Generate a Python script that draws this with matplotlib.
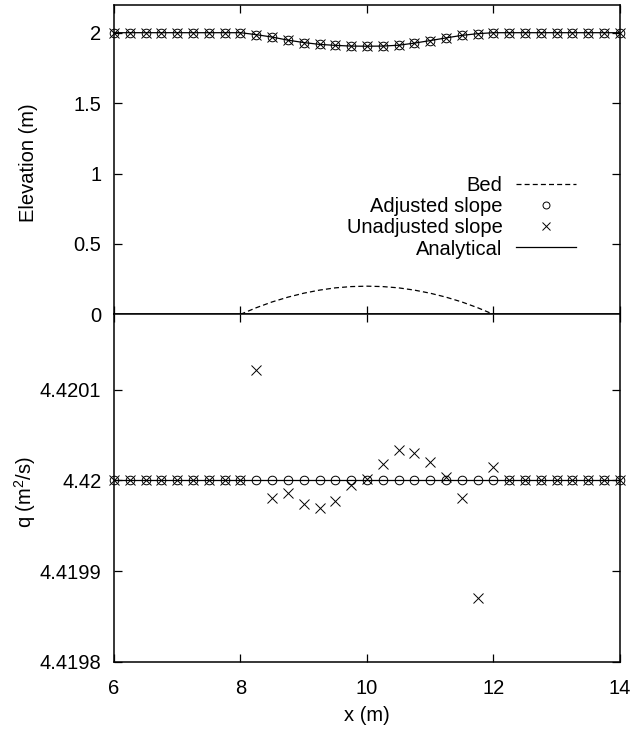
# water surface and discharge over a bump: adjusted vs unadjusted bed slope
import numpy as np
import matplotlib
matplotlib.use("Agg")
import matplotlib.pyplot as plt
import matplotlib.ticker as ticker
from matplotlib.lines import Line2D

plt.rcParams['font.family'] = ['Liberation Sans', 'DejaVu Sans']
plt.rcParams['mathtext.default'] = 'regular'
plt.rcParams['font.size'] = 14.5

# node positions (m)
x = [6.0, 6.25, 6.5, 6.75, 7.0, 7.25, 7.5, 7.75, 8.0,
     8.25, 8.5, 8.75, 9.0, 9.25, 9.5, 9.75, 10.0,
     10.25, 10.5, 10.75, 11.0, 11.25, 11.5, 11.75, 12.0,
     12.25, 12.5, 12.75, 13.0, 13.25, 13.5, 13.75, 14.0]

# water surface elevation (m)
elev_adjusted = [2.0, 2.0, 2.0, 2.0, 2.0, 2.0, 2.0, 2.0, 2.0,
                 1.986, 1.969, 1.947, 1.930, 1.917, 1.910, 1.905, 1.904,
                 1.905, 1.911, 1.926, 1.944, 1.963, 1.981, 1.993, 2.0,
                 2.0, 2.0, 2.0, 2.0, 2.0, 2.0, 2.0, 2.0]
elev_unadjusted = [2.0, 2.0, 2.0, 2.0, 2.0, 2.0, 2.0, 2.0, 2.0,
                   1.986, 1.969, 1.947, 1.930, 1.917, 1.910, 1.905, 1.904,
                   1.905, 1.911, 1.926, 1.944, 1.963, 1.981, 1.993, 2.0,
                   2.0, 2.0, 2.0, 2.0, 2.0, 2.0, 2.0, 2.0]
elev_analytical = [2.0, 2.0, 2.0, 2.0, 2.0, 2.0, 2.0, 2.0, 2.0,
                   1.986, 1.969, 1.947, 1.930, 1.917, 1.910, 1.905, 1.904,
                   1.905, 1.911, 1.926, 1.944, 1.963, 1.981, 1.993, 2.0,
                   2.0, 2.0, 2.0, 2.0, 2.0, 2.0, 2.0, 2.0]

# bed profile (m)
x_bed = [8.0, 8.25, 8.5, 8.75, 9.0, 9.25, 9.5, 9.75, 10.0,
         10.25, 10.5, 10.75, 11.0, 11.25, 11.5, 11.75, 12.0]
z_bed = [0.0, 0.047, 0.088, 0.122, 0.150, 0.172, 0.188, 0.197, 0.200,
         0.197, 0.188, 0.172, 0.150, 0.122, 0.088, 0.047, 0.0]

# discharge per unit width (m^2/s)
q_adjusted = [4.42] * 33
q_unadjusted = [4.42, 4.42, 4.42, 4.42, 4.42, 4.42, 4.42, 4.42, 4.42,
                4.420122, 4.419981, 4.419986, 4.419974, 4.419970, 4.419977, 4.419995, 4.420002,
                4.420018, 4.420034, 4.420030, 4.420020, 4.420004, 4.419981, 4.419871, 4.420015,
                4.42, 4.42, 4.42, 4.42, 4.42, 4.42, 4.42, 4.42]
q_analytical = [4.42] * 33

q_ticks = [4.4198, 4.4199, 4.42, 4.4201]
elev_ticks = [0, 0.5, 1, 1.5, 2]
x_ticks = [6, 8, 10, 12, 14]

fig = plt.figure(figsize=(6.34, 7.31), dpi=100)
ax1 = fig.add_axes([0.1798, 0.570, 0.798, 0.4238])
ax2 = fig.add_axes([0.1798, 0.0944, 0.798, 0.4757])

mk_o = dict(marker='o', ms=6.2, mfc='none', mec='black', mew=0.7, ls='none', clip_on=False)
mk_x = dict(marker='x', ms=7.0, mec='black', mew=0.7, ls='none', clip_on=False)

# top panel
ax1.plot(x_bed, z_bed, color='black', lw=0.9, dashes=(4, 2.5))
ax1.plot(x, elev_adjusted, **mk_o)
ax1.plot(x, elev_unadjusted, **mk_x)
ax1.plot(x, elev_analytical, color='black', lw=0.9)
ax1.set_xlim(6, 14)
ax1.set_ylim(0, 2.2)
ax1.set_yticks(elev_ticks)
ax1.yaxis.set_major_formatter(ticker.FormatStrFormatter('%g'))
ax1.set_xticks(x_ticks)
ax1.set_xticklabels([])
ax1.set_ylabel("Elevation (m)")
ax1.yaxis.set_label_coords(-0.150, 0.49)

handles = [Line2D([], [], color='black', lw=0.9, dashes=(4, 2.5)),
           Line2D([], [], marker='o', ms=5, mfc='none', mec='black', mew=0.7, ls='none'),
           Line2D([], [], marker='x', ms=6, mec='black', mew=0.7, ls='none'),
           Line2D([], [], color='black', lw=0.9)]
labels = ["Bed", "Adjusted slope", "Unadjusted slope", "Analytical"]
ax1.legend(handles, labels, loc='upper right', bbox_to_anchor=(0.913, 0.445),
           frameon=False, markerfirst=False, borderpad=0, borderaxespad=0,
           handlelength=2.95, handletextpad=0.7, labelspacing=0.1, fontsize=14.5)

# bottom panel
ax2.plot(x, q_adjusted, **mk_o)
ax2.plot(x, q_unadjusted, **mk_x)
ax2.plot(x, q_analytical, color='black', lw=0.9)
ax2.set_xlim(6, 14)
ax2.set_ylim(4.4198, 4.420183)
ax2.set_yticks(q_ticks)
ax2.yaxis.set_major_formatter(ticker.FixedFormatter(["%g" % v for v in q_ticks]))
ax2.set_xticks(x_ticks)
ax2.xaxis.set_major_formatter(ticker.FormatStrFormatter('%g'))
ax2.set_xlabel("x (m)", labelpad=6)
ax2.set_ylabel("q (m$^{2}$/s)")
ax2.yaxis.set_label_coords(-0.150, 0.49)

for ax in (ax1, ax2):
    ax.tick_params(direction='in', top=True, right=True, length=6, width=0.9, pad=9)
    for s in ax.spines.values():
        s.set_linewidth(1.1)
ax2.tick_params(axis='x', pad=12)

fig.savefig("out.png", dpi=100)
